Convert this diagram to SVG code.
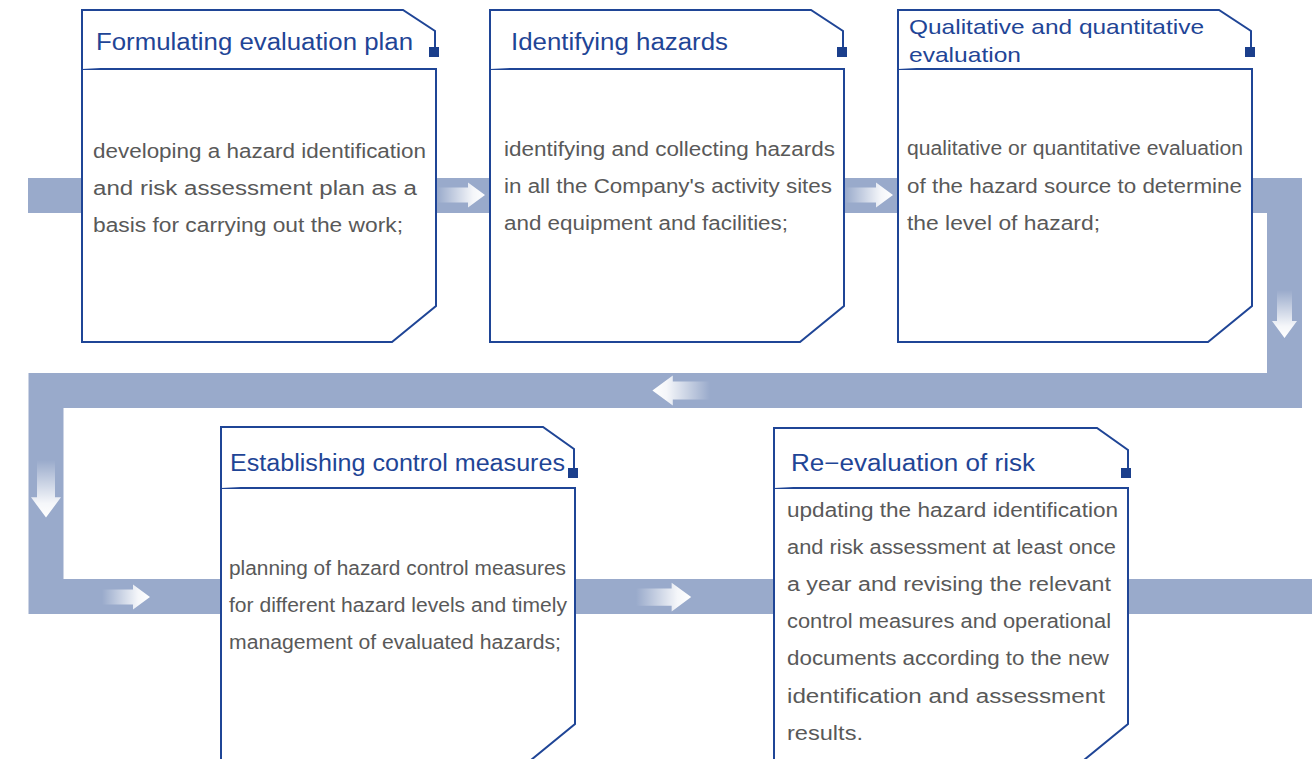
<svg xmlns="http://www.w3.org/2000/svg" width="1312" height="759" viewBox="0 0 1312 759">
<style>
.hdr{fill:#fff;stroke:#1F4596;stroke-width:2;stroke-linejoin:miter}
.body{fill:#fff;stroke:#1F4596;stroke-width:2}
.sq{fill:#1B3F8C}
.title{font-family:"Liberation Sans",Arial,sans-serif;font-size:23px;fill:#1F4596}
.txt{font-family:"Liberation Sans",Arial,sans-serif;font-size:20px;fill:#595959}
</style>
<defs>
<linearGradient id="ag" x1="0" y1="0" x2="1" y2="0">
<stop offset="0" stop-color="#ffffff" stop-opacity="0"/>
<stop offset="0.75" stop-color="#ffffff" stop-opacity="0.9"/>
<stop offset="1" stop-color="#ffffff" stop-opacity="1"/>
</linearGradient>
<path id="arr" d="M0,-7.5 H31 V-12.5 L48,0 L31,12.5 V7.5 H0 Z" fill="url(#ag)"/>
</defs>
<rect width="1312" height="759" fill="#fff"/>
<g id="connectors">
<path d="M28,195.5 H1284.5 V390.5 H46 V596.5 H1312" fill="none" stroke="#99AACB" stroke-width="35" stroke-linejoin="miter"/>
<use href="#arr" transform="translate(437,195)"/>
<use href="#arr" transform="translate(845,195)"/>
<use href="#arr" transform="translate(1284.5,290) rotate(90)"/>
<use href="#arr" transform="translate(710,390.5) rotate(180) scale(1.2)"/>
<use href="#arr" transform="translate(46,460) rotate(90) scale(1.2)"/>
<use href="#arr" transform="translate(102,597)"/>
<use href="#arr" transform="translate(636,597) scale(1.15)"/>
</g>
<g id="node1">
<path class="body" d="M82,69 H436 V306 L392,342 H82 Z"/>
<path class="hdr" d="M82,69 V10 H403 L435,31 V50"/>
<rect class="sq" x="429" y="47" width="10" height="10"/>
<text class="title" x="96" y="50" textLength="317" lengthAdjust="spacingAndGlyphs">Formulating evaluation plan</text>
<text class="txt" x="93" y="158" textLength="333" lengthAdjust="spacingAndGlyphs">developing a hazard identification</text>
<text class="txt" x="93" y="195" textLength="324" lengthAdjust="spacingAndGlyphs">and risk assessment plan as a</text>
<text class="txt" x="93" y="232" textLength="310" lengthAdjust="spacingAndGlyphs">basis for carrying out the work;</text>
</g>
<g id="node2">
<path class="body" d="M490,69 H844 V306 L800,342 H490 Z"/>
<path class="hdr" d="M490,69 V10 H811 L843,31 V50"/>
<rect class="sq" x="837" y="47" width="10" height="10"/>
<text class="title" x="511" y="50" textLength="217" lengthAdjust="spacingAndGlyphs">Identifying hazards</text>
<text class="txt" x="504" y="156" textLength="331" lengthAdjust="spacingAndGlyphs">identifying and collecting hazards</text>
<text class="txt" x="504" y="193" textLength="328" lengthAdjust="spacingAndGlyphs">in all the Company's activity sites</text>
<text class="txt" x="504" y="230" textLength="284" lengthAdjust="spacingAndGlyphs">and equipment and facilities;</text>
</g>
<g id="node3">
<path class="body" d="M898,69 H1252 V306 L1208,342 H898 Z"/>
<path class="hdr" d="M898,69 V10 H1219 L1251,31 V50"/>
<rect class="sq" x="1245" y="47" width="10" height="10"/>
<text class="title" x="909" y="34" style="font-size:21px" textLength="295" lengthAdjust="spacingAndGlyphs">Qualitative and quantitative</text>
<text class="title" x="909" y="62" style="font-size:21px" textLength="112" lengthAdjust="spacingAndGlyphs">evaluation</text>
<text class="txt" x="907" y="155" textLength="336" lengthAdjust="spacingAndGlyphs">qualitative or quantitative evaluation</text>
<text class="txt" x="907" y="193" textLength="335" lengthAdjust="spacingAndGlyphs">of the hazard source to determine</text>
<text class="txt" x="907" y="230" textLength="193" lengthAdjust="spacingAndGlyphs">the level of hazard;</text>
</g>
<g id="node4">
<path class="body" d="M221,488 H575 V724 L531,760 H221 Z"/>
<path class="hdr" d="M221,488 V427 H543 L574,449 V470"/>
<rect class="sq" x="568" y="468" width="10" height="10"/>
<text class="title" x="230" y="471" textLength="335" lengthAdjust="spacingAndGlyphs">Establishing control measures</text>
<text class="txt" x="229" y="575" textLength="337" lengthAdjust="spacingAndGlyphs">planning of hazard control measures</text>
<text class="txt" x="229" y="612" textLength="338" lengthAdjust="spacingAndGlyphs">for different hazard levels and timely</text>
<text class="txt" x="229" y="649" textLength="332" lengthAdjust="spacingAndGlyphs">management of evaluated hazards;</text>
</g>
<g id="node5">
<path class="body" d="M774,488 H1128 V724 L1084,760 H774 Z"/>
<path class="hdr" d="M774,488 V428 H1097 L1128,450 V470"/>
<rect class="sq" x="1121" y="468" width="10" height="10"/>
<text class="title" x="791" y="471" textLength="244" lengthAdjust="spacingAndGlyphs">Re−evaluation of risk</text>
<text class="txt" x="787" y="517" textLength="331" lengthAdjust="spacingAndGlyphs">updating the hazard identification</text>
<text class="txt" x="787" y="554" textLength="329" lengthAdjust="spacingAndGlyphs">and risk assessment at least once</text>
<text class="txt" x="787" y="591" textLength="324" lengthAdjust="spacingAndGlyphs">a year and revising the relevant</text>
<text class="txt" x="787" y="628" textLength="324" lengthAdjust="spacingAndGlyphs">control measures and operational</text>
<text class="txt" x="787" y="665" textLength="322" lengthAdjust="spacingAndGlyphs">documents according to the new</text>
<text class="txt" x="787" y="703" textLength="318" lengthAdjust="spacingAndGlyphs">identification and assessment</text>
<text class="txt" x="787" y="740" textLength="76" lengthAdjust="spacingAndGlyphs">results.</text>
</g>
</svg>
